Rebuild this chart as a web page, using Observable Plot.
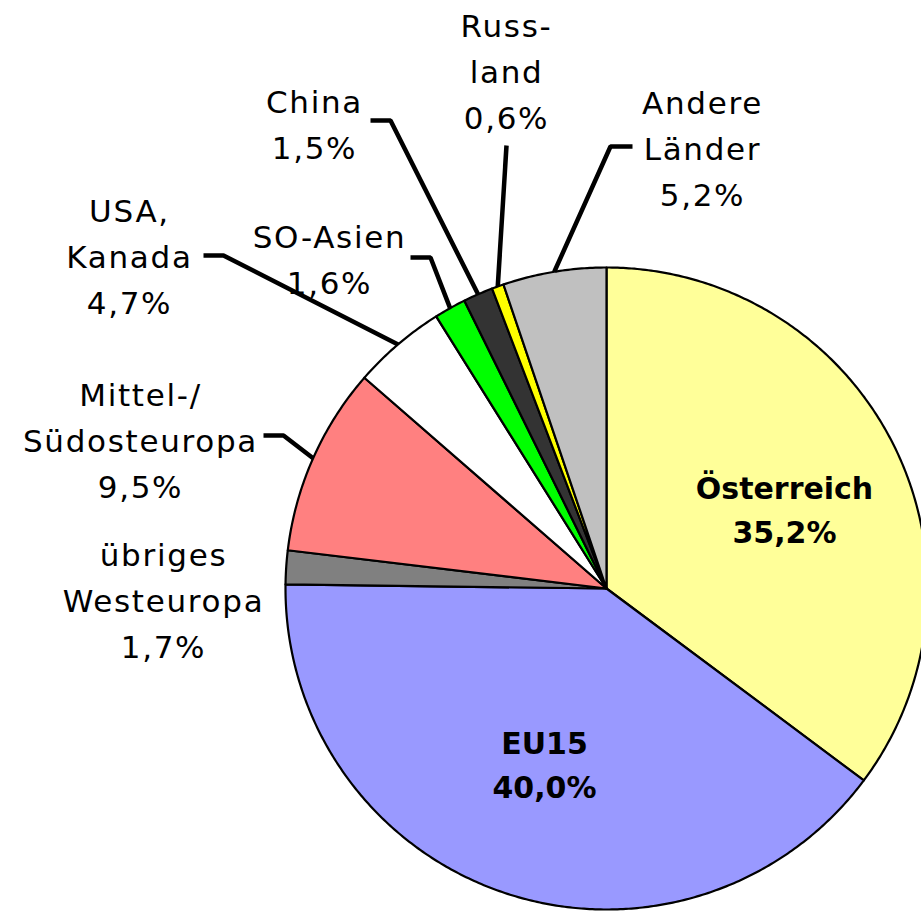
<!DOCTYPE html>
<html><head><meta charset="utf-8">
<script src="https://cdn.jsdelivr.net/npm/d3@7"></script>
<script src="https://cdn.jsdelivr.net/npm/@observablehq/plot@0.6"></script>
<style>
html,body{margin:0;padding:0;background:#fff;overflow:hidden}
#chart svg{display:block}
#chart text{letter-spacing:1.7px}
#chart g[font-weight="bold"] text{letter-spacing:0}
</style></head><body><div id="chart"></div>
<script>
// ---- data ----
const categories = ["Österreich", "EU15", "übriges Westeuropa", "Mittel-/Südosteuropa", "USA, Kanada", "SO-Asien", "China", "Russland", "Andere Länder"];
const shares = [35.2, 40.0, 1.7, 9.5, 4.7, 1.6, 1.5, 0.6, 5.2];
const displayLabels = ["Österreich", "EU15", "übriges\nWesteuropa", "Mittel-/\nSüdosteuropa", "USA,\nKanada", "SO-Asien", "China", "Russ-\nland", "Andere\nLänder"];
const colors = ["#FFFF99", "#9999FF", "#808080", "#FF8080", "#FFFFFF", "#00FF00", "#333333", "#FFFF00", "#C0C0C0"];

// ---- layout ----
const W = 921, H = 911, CX = 606, CY = 588, R = 321;
const labelLayout = [
  {x: 784, y: 542, bold: true},
  {x: 544, y: 797, bold: true},
  {x: 163, y: 657},
  {x: 140, y: 497},
  {x: 129, y: 313},
  {x: 329, y: 293},
  {x: 314, y: 158},
  {x: 506, y: 128},
  {x: 702, y: 205}
];
const leaderLayout = [null, null, null,
  [[263, 435], [283, 435]],
  [[203, 255], [223, 255]],
  [[410, 257], [430, 257]],
  [[370, 120], [390, 120]],
  [[506, 145]],
  [[632, 146], [610, 146]]
];

const rows = categories.map((name, i) => ({name, value: shares[i], color: colors[i], i}));
const arcs = d3.pie().sort(null).value(d => d.value).startAngle(0).endAngle(2 * Math.PI)(rows);
const pt = (a, r) => ({x: CX + r * Math.sin(a), y: CY - r * Math.cos(a)});

const slicePts = [];
arcs.forEach(a => {
  const n = Math.max(2, Math.ceil((a.endAngle - a.startAngle) / (Math.PI / 360)));
  slicePts.push({name: a.data.name, color: a.data.color, x: CX, y: CY});
  for (let k = 0; k <= n; k++) {
    const ang = a.startAngle + (a.endAngle - a.startAngle) * k / n;
    slicePts.push({name: a.data.name, color: a.data.color, ...pt(ang, R)});
  }
  slicePts.push({name: a.data.name, color: a.data.color, x: CX, y: CY});
});

const leaderPts = [];
arcs.forEach((a, i) => {
  const L = leaderLayout[i];
  if (!L) return;
  L.forEach(([x, y]) => leaderPts.push({name: a.data.name, x, y}));
  leaderPts.push({name: a.data.name, ...pt((a.startAngle + a.endAngle) / 2, R)});
});

const fmt = v => v.toFixed(1).replace(".", ",") + "%";
const textRows = rows.map((d, i) => ({
  text: displayLabels[i] + "\n" + fmt(d.value),
  x: labelLayout[i].x, y: labelLayout[i].y, bold: !!labelLayout[i].bold
}));

const font = "DejaVu Sans, sans-serif";
const chart = Plot.plot({
  width: W, height: H, margin: 0,
  x: {domain: [0, W], range: [0, W], axis: null},
  y: {domain: [0, H], range: [0, H], axis: null},
  color: {type: "identity"},
  style: {background: "white"},
  marks: [
    Plot.line(slicePts, {x: "x", y: "y", z: "name", fill: "color", stroke: "black", strokeWidth: 2.2, strokeLinejoin: "round"}),
    Plot.line(leaderPts, {x: "x", y: "y", z: "name", stroke: "black", strokeWidth: 4.5, strokeLinejoin: "miter", strokeLinecap: "butt"}),
    Plot.text(textRows.filter(d => !d.bold), {x: "x", y: "y", text: "text", fontSize: 31, fontFamily: font, lineAnchor: "bottom", lineHeight: 1.48, textAnchor: "middle", fill: "black"}),
    Plot.text(textRows.filter(d => d.bold), {x: "x", y: "y", text: "text", fontSize: 30, fontWeight: "bold", fontFamily: font, lineAnchor: "bottom", lineHeight: 1.45, textAnchor: "middle", fill: "black"})
  ]
});
document.getElementById("chart").appendChild(chart);
</script></body></html>
